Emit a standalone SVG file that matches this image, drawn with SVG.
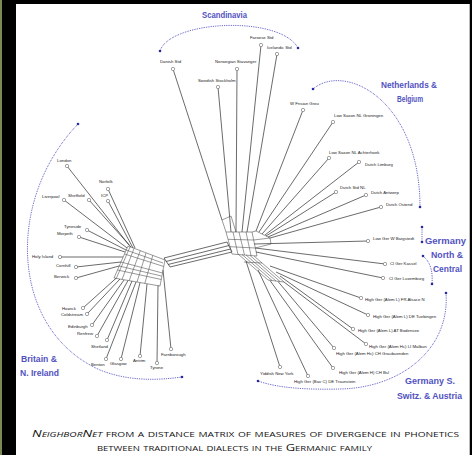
<svg xmlns="http://www.w3.org/2000/svg" width="472" height="455" viewBox="0 0 472 455">
<style>
.e{stroke:#3a3a3a;stroke-width:0.75;fill:none}
.g{stroke:#555;stroke-width:0.6;fill:none}
.n{fill:#fff;stroke:#666;stroke-width:0.6}
.l{font-family:"Liberation Sans",Arial,sans-serif;font-size:4.3px;fill:#222}
.b{font-family:"Liberation Sans",Arial,sans-serif;font-size:8.8px;font-weight:bold;fill:#5252bf}
.a{stroke:#4a4ac0;stroke-width:1;fill:none;stroke-dasharray:0.8 1}
.d{fill:#2a2aa0}
.c{font-family:"Open Sans","Liberation Sans",sans-serif;font-size:9.5px;fill:#111;font-variant:small-caps}
</style>
<rect width="472" height="455" fill="#000"/>
<rect x="0" y="0" width="2" height="455" fill="#7a8a55"/>
<rect x="16" y="4" width="453" height="451" fill="#fff"/>
<rect x="469" y="4" width="1" height="451" fill="#bbb"/>

<g id="group-labels">
<text class="b" x="202" y="18" textLength="45" lengthAdjust="spacingAndGlyphs">Scandinavia</text>
<path class="a" d="M160,51 C170,20 280,15 298,48"/><circle class="d" cx="160" cy="51" r="1.3"/><circle class="d" cx="298" cy="48" r="1.3"/>
<text class="b" x="381" y="88" textLength="56" lengthAdjust="spacingAndGlyphs">Netherlands &amp;</text>
<text class="b" x="397" y="102" textLength="26" lengthAdjust="spacingAndGlyphs">Belgium</text>
<path class="a" d="M313,89 C345,62 420,100 420,207"/><circle class="d" cx="313" cy="89" r="1.3"/><circle class="d" cx="420" cy="207" r="1.3"/>
<text class="b" x="425" y="244" textLength="41" lengthAdjust="spacingAndGlyphs">Germany</text>
<text class="b" x="431" y="258" textLength="32" lengthAdjust="spacingAndGlyphs">North &amp;</text>
<text class="b" x="433" y="272" textLength="29" lengthAdjust="spacingAndGlyphs">Central</text>
<path class="a" d="M422,227 L422,242"/><circle class="d" cx="422" cy="227" r="1.3"/><circle class="d" cx="422" cy="242" r="1.3"/>
<path class="a" d="M423,256 C430,262 433,270 432,284"/><circle class="d" cx="423" cy="256" r="1.3"/><circle class="d" cx="432" cy="284" r="1.3"/>
<text class="b" x="405" y="384" textLength="50" lengthAdjust="spacingAndGlyphs">Germany S.</text>
<text class="b" x="397" y="399" textLength="65" lengthAdjust="spacingAndGlyphs">Switz. &amp; Austria</text>
<path class="a" d="M446,293 C450,350 400,388 340,389 C300,390 275,387 258,381"/><circle class="d" cx="446" cy="293" r="1.3"/><circle class="d" cx="258" cy="381" r="1.3"/>
<text class="b" x="21" y="362" textLength="36" lengthAdjust="spacingAndGlyphs">Britain &amp;</text>
<text class="b" x="20" y="376" textLength="39" lengthAdjust="spacingAndGlyphs">N. Ireland</text>
<path class="a" d="M78,124 C5,200 10,330 100,370 C130,382 160,380 182,377"/><circle class="d" cx="78" cy="124" r="1.3"/><circle class="d" cx="182" cy="377" r="1.3"/>
</g>

<g id="connectors">
<path class="g" d="M128,246 L165,260 M124.5,254 L163.75,266.5 M121,262 L162.5,273 M117.5,270 L161.25,279.5 M114,278 L160,286"/>
<path class="g" d="M128,246 L114,278 M140.3,250.6 L129.2,280.6 M152.8,255.4 L144.8,283.4 M165,260 L160,286"/>
<path class="g" d="M130,247 L116,279 M134,248.5 L122,279.5 M146,253 L137,282 M126,250 L163,263 M119,266 L161.5,276"/>
<path class="e" d="M164,258 L227,242 M166,261.5 L229,245.5 M168,264.5 L230.5,249 M170,267 L232,252 M164,258 L170,267 M227,242 L232,252"/>
<path class="g" d="M226,232 L252,232 M228,239.3 L253.7,240 M230,246.7 L255.3,248 M232,254 L257,256"/>
<path class="g" d="M226,232 L232,254 M239,232 L244.5,255 M252,232 L257,256 M233,232 L238,254.5 M246,232 L251,255.5"/>
<path class="g" d="M222,220 L231,216 L236,232 M222,220 L226,232 M252,232 L256,231 M253.7,240 L270,238 M256,231 L270,238 M255.3,248 L271,244 M270,238 L271,244"/>
<path class="g" d="M238,254 L268,280 M242,254.5 L272,280.5 M246,255 L276,281 M250,255.5 L280,281.5 M254,256 L284,282 M268,280 L284,282 M244,262 L262,263"/>
<path class="e" d="M173,69 L222,220 M237,69 L236,232 M218,87 L231,232 M261,45 L242,232 M277,54 L247,232"/>
<path class="e" d="M303,110 L256,231 M333,122 L259,232 M329,158 L262,234 M359,162 L265,235 M336,192 L266,236 M366,195 L268,237 M381,207 L270,238"/>
<path class="e" d="M368,241 L254,244 M385,264 L255.3,248 M383,278 L256,252"/>
<path class="e" d="M361,298 L270,266 M368,315 L276,272 M353,329 L280,276 M366,344 L284,282 M334,348 L278,281.5 M333,368 L270,280.5 M308,376 L258,270 M280,367 L246,261"/>
<path class="e" d="M67,166 L129,245 M108,189 L135,248 M64,200 L127,248 M89,200 L131,247 M108,201 L133,248 M87,230 L126,250 M79,237 L125,252"/>
<path class="e" d="M60,257 L123,257 M76,267 L121,262 M76,278 L119,266"/>
<path class="e" d="M83,308 L116,278.3 M87,314 L120,279 M92,325 L124,280 M97,336 L128,280.5 M107,340 L132,281 M106,359 L136,282 M121,359 L140,282.7 M140,356 L147,284 M157,363 L158,285.5 M171,349 L163,270"/>
</g>

<g id="nodes">
<g id="danish"><circle class="n" cx="173" cy="69" r="1.7"/><text class="l" x="160" y="62.5">Danish Std</text></g>
<g id="norwegian"><circle class="n" cx="237" cy="69" r="1.7"/><text class="l" x="215" y="62.5">Norwegian Stavanger</text></g>
<g id="swedish"><circle class="n" cx="218" cy="87" r="1.7"/><text class="l" x="198" y="81.5">Swedish Stockholm</text></g>
<g id="faroese"><circle class="n" cx="261" cy="45" r="1.7"/><text class="l" x="250" y="39">Faroese Std</text></g>
<g id="icelandic"><circle class="n" cx="277" cy="54" r="1.7"/><text class="l" x="267" y="49">Icelandic Std</text></g>
<g id="wfrisian"><circle class="n" cx="303" cy="110" r="1.7"/><text class="l" x="290" y="104.5">W Frisian Grou</text></g>
<g id="groningen"><circle class="n" cx="333" cy="122" r="1.7"/><text class="l" x="334" y="116.5">Low Saxon NL Groningen</text></g>
<g id="achterhoek"><circle class="n" cx="329" cy="158" r="1.7"/><text class="l" x="329" y="153.5">Low Saxon NL Achterhoek</text></g>
<g id="limburg"><circle class="n" cx="359" cy="162" r="1.7"/><text class="l" x="365" y="165.5">Dutch Limburg</text></g>
<g id="dutchstd"><circle class="n" cx="336" cy="192" r="1.7"/><text class="l" x="340" y="188.5">Dutch Std NL</text></g>
<g id="antwerp"><circle class="n" cx="366" cy="195" r="1.7"/><text class="l" x="371" y="193.5">Dutch Antwerp</text></g>
<g id="ostend"><circle class="n" cx="381" cy="207" r="1.7"/><text class="l" x="386" y="205.5">Dutch Ostend</text></g>
<g id="bargstedt"><circle class="n" cx="368" cy="241" r="1.7"/><text class="l" x="373" y="239.5">Low Ger W Bargstedt</text></g>
<g id="kassel"><circle class="n" cx="385" cy="264" r="1.7"/><text class="l" x="390" y="264.5">Cl Ger Kassel</text></g>
<g id="luxemburg"><circle class="n" cx="383" cy="278" r="1.7"/><text class="l" x="389" y="279.5">Cl Ger Luxemburg</text></g>
<g id="alsace"><circle class="n" cx="361" cy="298" r="1.7"/><text class="l" x="365" y="300.5">High Ger (Alem L) FR Alsace N</text></g>
<g id="tuebingen"><circle class="n" cx="368" cy="315" r="1.7"/><text class="l" x="373" y="317.5">High Ger (Alem L) DE Tuebingen</text></g>
<g id="bodensee"><circle class="n" cx="353" cy="329" r="1.7"/><text class="l" x="358" y="331.5">High Ger (Alem L) AT Bodensee</text></g>
<g id="malbun"><circle class="n" cx="366" cy="344" r="1.7"/><text class="l" x="369" y="347.5">High Ger (Alem Hc) LI Malbun</text></g>
<g id="graubuenden"><circle class="n" cx="334" cy="348" r="1.7"/><text class="l" x="336" y="354.5">High Ger (Alem Hc) CH Graubuenden</text></g>
<g id="bsl"><circle class="n" cx="333" cy="368" r="1.7"/><text class="l" x="339" y="373.5">High Ger (Alem H) CH Bsl</text></g>
<g id="yiddish"><circle class="n" cx="280" cy="367" r="1.7"/><text class="l" x="260" y="374.5">Yiddish New York</text></g>
<g id="traunstein"><circle class="n" cx="308" cy="376" r="1.7"/><text class="l" x="294" y="382.5">High Ger (Bav C) DE Traunstein</text></g>
<g id="london"><circle class="n" cx="67" cy="166" r="1.7"/><text class="l" x="57" y="161.5">London</text></g>
<g id="norfolk"><circle class="n" cx="108" cy="189" r="1.7"/><text class="l" x="99" y="182.5">Norfolk</text></g>
<g id="liverpool"><circle class="n" cx="64" cy="200" r="1.7"/><text class="l" x="42" y="197.5">Liverpool</text></g>
<g id="sheffield"><circle class="n" cx="89" cy="200" r="1.7"/><text class="l" x="68" y="196.5">Sheffield</text></g>
<g id="icp"><circle class="n" cx="108" cy="201" r="1.7"/><text class="l" x="101" y="196.5">ICP</text></g>
<g id="tyneside"><circle class="n" cx="87" cy="230" r="1.7"/><text class="l" x="64" y="227.5">Tyneside</text></g>
<g id="morpeth"><circle class="n" cx="79" cy="237" r="1.7"/><text class="l" x="57" y="234.5">Morpeth</text></g>
<g id="holyisland"><circle class="n" cx="60" cy="257" r="1.7"/><text class="l" x="32" y="257.5">Holy Island</text></g>
<g id="cornhill"><circle class="n" cx="76" cy="267" r="1.7"/><text class="l" x="56" y="266.5">Cornhill</text></g>
<g id="berwick"><circle class="n" cx="76" cy="278" r="1.7"/><text class="l" x="54" y="277.5">Berwick</text></g>
<g id="hawick"><circle class="n" cx="83" cy="308" r="1.7"/><text class="l" x="62" y="309.5">Hawick</text></g>
<g id="coldstream"><circle class="n" cx="87" cy="314" r="1.7"/><text class="l" x="61" y="315.5">Coldstream</text></g>
<g id="edinburgh"><circle class="n" cx="92" cy="325" r="1.7"/><text class="l" x="68" y="327.5">Edinburgh</text></g>
<g id="renfrew"><circle class="n" cx="97" cy="336" r="1.7"/><text class="l" x="77" y="334.5">Renfrew</text></g>
<g id="shetland"><circle class="n" cx="107" cy="340" r="1.7"/><text class="l" x="91" y="347.5">Shetland</text></g>
<g id="benton"><circle class="n" cx="106" cy="359" r="1.7"/><text class="l" x="91" y="365.5">Benton</text></g>
<g id="glasgow"><circle class="n" cx="121" cy="359" r="1.7"/><text class="l" x="110" y="364.5">Glasgow</text></g>
<g id="antrim"><circle class="n" cx="140" cy="356" r="1.7"/><text class="l" x="133" y="361.5">Antrim</text></g>
<g id="tyrone"><circle class="n" cx="157" cy="363" r="1.7"/><text class="l" x="150" y="368.5">Tyrone</text></g>
<g id="farnborough"><circle class="n" cx="171" cy="349" r="1.7"/><text class="l" x="161" y="355.5">Farnborough</text></g>
</g>

<g id="caption">
<text class="c" x="32" y="437" textLength="427" lengthAdjust="spacingAndGlyphs"><tspan font-style="italic">NeighborNet</tspan> from a distance matrix of measures of divergence in phonetics</text>
<text class="c" x="97" y="451" textLength="275" lengthAdjust="spacingAndGlyphs">between traditional dialects in the Germanic family</text>
</g>
</svg>
